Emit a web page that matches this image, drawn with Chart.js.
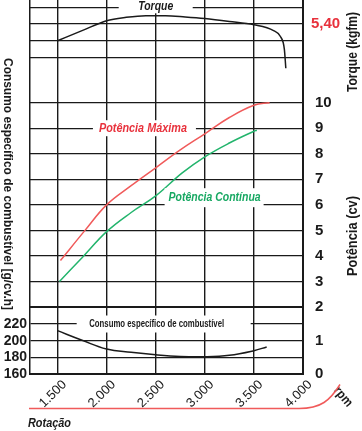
<!DOCTYPE html>
<html>
<head>
<meta charset="utf-8">
<script src="https://cdn.jsdelivr.net/npm/chart.js@4/dist/chart.umd.min.js"></script>
<style>
  html, body { margin: 0; padding: 0; background: #fff; }
  #caixa { width: 362px; height: 431px; position: relative; }
</style>
</head>
<body>
<div id="caixa"><canvas id="grafico"></canvas></div>
<script>
// ----------------------------------------------
// CURVAS DE DESEMPENHO DO MOTOR
// ----------------------------------------------

// rotacao (rpm)
var rpmTicks = [1500, 2000, 2500, 3000, 3500, 4000];

// torque (kgfm)
var torqueRpm = [1500, 1750, 2000, 2200, 2400, 2600, 2800, 3000, 3250, 3500, 3700, 3770, 3810, 3825];
var torqueVal = [5.20, 5.32, 5.44, 5.48, 5.50, 5.50, 5.485, 5.465, 5.43, 5.39, 5.32, 5.25, 5.10, 4.87];

// potencia maxima (cv)
var potMaxRpm = [1530, 1780, 2000, 2250, 2500, 2750, 3000, 3250, 3500, 3660];
var potMaxVal = [3.82, 5.0, 6.0, 6.75, 7.45, 8.15, 8.78, 9.42, 9.9, 10.0];

// potencia continua (cv)
var potContRpm = [1520, 1750, 2000, 2250, 2500, 2770, 3000, 3250, 3500, 3530];
var potContVal = [3.0, 3.93, 4.95, 5.7, 6.35, 7.25, 7.88, 8.42, 8.88, 8.92];

// consumo especifico (g/cv.h)
var consumoRpm = [1500, 1750, 2000, 2250, 2500, 2750, 3000, 3250, 3500, 3630];
var consumoVal = [212, 200.5, 190, 186, 183, 181, 180.7, 182.5, 188, 192.5];

var fonte = "'Liberation Sans', Arial, 'Helvetica Neue', sans-serif";
var preto = '#1a1a1a';
var vermelho = '#f05a5a';
var vermelhoTxt = '#e8313c';
var verde = '#22b46c';
var verdeTxt = '#17a862';

// rotulos com fundo branco sobre a grade (largura = largura do texto condensado)
var rotulos = [
    { texto: 'Torque', x: 2500, y: 5.6, eixo: 'yT', cor: preto, estilo: 'italic bold 13px ', largura: 35, esq: 37, dir: 37, cima: 8, baixo: 7, dy: -1 },
    { texto: 'Potência Máxima', x: 2370, y: 9, eixo: 'yP', cor: vermelhoTxt, estilo: 'italic bold 13px ', largura: 88, esq: 50, dir: 53, cima: 8, baixo: 8, dy: 0 },
    { texto: 'Potência Contínua', x: 3100, y: 6.28, eixo: 'yP', cor: verdeTxt, estilo: 'italic bold 13px ', largura: 92, esq: 50, dir: 49, cima: 9.5, baixo: 9.5, dy: 0 },
    { texto: 'Consumo específico de combustível', x: 2510, y: 220, eixo: 'yC', cor: preto, estilo: 'bold 11px ', largura: 135, esq: 80, dir: 94, cima: 8.5, baixo: 8.5, dy: 0 }
];

function pares(xs, ys) {
    return xs.map(function (v, i) { return { x: v, y: ys[i] }; });
}

function formatoMilhar(v) {
    return String(v).replace(/\B(?=(\d{3})+(?!\d))/g, '.');
}

function semPadding(s) {
    s.paddingTop = 0;
    s.paddingBottom = 0;
}

// escreve texto comprimido na horizontal ate a largura pedida (fonte condensada)
function textoCondensado(ctx, texto, x, y, angulo, largura) {
    var w = ctx.measureText(texto).width;
    var k = largura && w > largura ? largura / w : 1;
    ctx.save();
    ctx.translate(x, y);
    ctx.rotate(angulo);
    ctx.scale(k, 1);
    ctx.fillText(texto, 0, 0);
    ctx.restore();
}

FNTextosGrafico = {
    id: 'textosGrafico',
    afterDatasetsDraw: function (chart) {
        var ctx = chart.ctx;
        var sx = chart.scales.x;
        rotulos.forEach(function (r) {
            var px = sx.getPixelForValue(r.x);
            var py = chart.scales[r.eixo].getPixelForValue(r.y) + r.dy;
            ctx.save();
            ctx.fillStyle = '#fff';
            ctx.fillRect(px - r.esq, py - r.cima, r.esq + r.dir, r.cima + r.baixo);
            ctx.font = r.estilo + fonte;
            ctx.fillStyle = r.cor;
            ctx.textAlign = 'center';
            ctx.textBaseline = 'middle';
            textoCondensado(ctx, r.texto, px, py, 0, r.largura);
            ctx.restore();
        });
    },
    afterDraw: function (chart) {
        var ctx = chart.ctx;
        var a = chart.chartArea;
        ctx.save();
        ctx.fillStyle = preto;
        ctx.textBaseline = 'middle';
        ctx.textAlign = 'center';

        // titulo eixo esquerdo
        ctx.font = 'bold 12px ' + fonte;
        textoCondensado(ctx, 'Consumo específico de combustível [g/cv.h]', 7, 184, Math.PI / 2, 252);

        // titulos eixo direito
        ctx.font = 'bold 14px ' + fonte;
        textoCondensado(ctx, 'Torque (kgfm)', 353, 52, -Math.PI / 2, 80);
        textoCondensado(ctx, 'Potência (cv)', 353, 236, -Math.PI / 2, 80);

        // rpm
        ctx.font = 'bold 13px ' + fonte;
        textoCondensado(ctx, 'rpm', 343, 397, 50 * Math.PI / 180, 22);

        // Rotacao
        ctx.textAlign = 'left';
        ctx.font = 'italic bold 13px ' + fonte;
        textoCondensado(ctx, 'Rotação', a.left - 2, a.bottom + 49, 0, 43);

        // linha vermelha da rotacao
        var yl = a.bottom + 34.5;
        ctx.strokeStyle = vermelho;
        ctx.lineWidth = 1.5;
        ctx.beginPath();
        ctx.moveTo(a.left - 1, yl);
        ctx.lineTo(a.right - 4, yl);
        ctx.bezierCurveTo(a.right + 18, yl, a.right + 27, yl - 8, a.right + 37, yl - 24);
        ctx.stroke();
        ctx.restore();
    }
};

new Chart(document.getElementById('grafico'), {
    type: 'line',
    data: {
        datasets: [{
            label: 'Torque',
            data: pares(torqueRpm, torqueVal),
            yAxisID: 'yT',
            borderColor: preto,
            borderWidth: 1.5,
            cubicInterpolationMode: 'monotone',
            pointRadius: 0,
            clip: false
        }, {
            label: 'Potência Máxima',
            data: pares(potMaxRpm, potMaxVal),
            yAxisID: 'yP',
            borderColor: vermelho,
            borderWidth: 1.5,
            tension: 0.4,
            pointRadius: 0
        }, {
            label: 'Potência Contínua',
            data: pares(potContRpm, potContVal),
            yAxisID: 'yP',
            borderColor: verde,
            borderWidth: 1.5,
            tension: 0.4,
            pointRadius: 0
        }, {
            label: 'Consumo específico de combustível',
            data: pares(consumoRpm, consumoVal),
            yAxisID: 'yC',
            borderColor: preto,
            borderWidth: 1.5,
            tension: 0.4,
            pointRadius: 0
        }]
    },
    options: {
        responsive: true,
        maintainAspectRatio: false,
        animation: false,
        layout: { padding: 0 },
        plugins: {
            legend: { display: false },
            tooltip: { enabled: false }
        },
        scales: {
            x: {
                type: 'linear',
                position: 'bottom',
                min: 1220,
                max: 4000,
                afterBuildTicks: function (s) {
                    s.ticks = rpmTicks.map(function (v) { return { value: v }; });
                },
                afterFit: function (s) {
                    s.height = 57;
                    s.paddingLeft = 0;
                    s.paddingRight = 0;
                },
                ticks: {
                    autoSkip: false,
                    minRotation: 45,
                    maxRotation: 45,
                    padding: 3,
                    labelOffset: 7,
                    color: preto,
                    font: { family: fonte, size: 13 },
                    callback: function (v) { return formatoMilhar(v); }
                },
                grid: { color: preto, lineWidth: 1.4, drawTicks: false },
                border: { color: preto, width: 2 }
            },
            yC: {
                type: 'linear',
                position: 'left',
                min: 160,
                max: 608.8,
                afterFit: function (s) { s.width = 30; semPadding(s); },
                ticks: {
                    stepSize: 20,
                    includeBounds: false,
                    autoSkip: false,
                    padding: 3,
                    color: preto,
                    font: { family: fonte, size: 14, weight: 'bold' },
                    callback: function (v) { return v <= 220 ? v : ''; }
                },
                grid: {
                    drawTicks: false,
                    lineWidth: 1.3,
                    color: function (c) {
                        return (c.tick && c.tick.value > 160 && c.tick.value <= 220) ? preto : 'rgba(0,0,0,0)';
                    }
                },
                border: { color: preto, width: 1.5 }
            },
            yT: {
                type: 'linear',
                position: 'right',
                stack: 'direita',
                stackWeight: 80,
                weight: 1,
                min: 4.7293,
                max: 5.6874,
                afterFit: function (s) { s.width = 59; semPadding(s); },
                ticks: {
                    stepSize: 0.2,
                    includeBounds: false,
                    autoSkip: false,
                    padding: 8,
                    color: vermelhoTxt,
                    font: { family: fonte, size: 15, weight: 'bold' },
                    callback: function (v) { return Math.abs(v - 5.4) < 0.01 ? '5,40' : ''; }
                },
                grid: {
                    drawTicks: false,
                    lineWidth: 1.3,
                    color: function (c) {
                        return (c.tick && c.tick.value > 4.9) ? preto : 'rgba(0,0,0,0)';
                    }
                },
                border: { color: preto, width: 2 }
            },
            yP: {
                type: 'linear',
                position: 'right',
                stack: 'direita',
                stackWeight: 227,
                weight: 2,
                min: 2,
                max: 10.888,
                afterFit: function (s) { s.width = 59; semPadding(s); },
                ticks: {
                    stepSize: 1,
                    includeBounds: false,
                    autoSkip: false,
                    padding: 12,
                    color: preto,
                    font: { family: fonte, size: 15, weight: 'bold' }
                },
                grid: {
                    drawTicks: false,
                    color: preto,
                    lineWidth: function (c) { return (c.tick && c.tick.value === 2) ? 2 : 1.3; }
                },
                border: { color: preto, width: 2 }
            },
            yPlow: {
                type: 'linear',
                position: 'right',
                stack: 'direita',
                stackWeight: 67,
                weight: 3,
                min: 0,
                max: 2,
                afterFit: function (s) { s.width = 59; semPadding(s); },
                ticks: {
                    stepSize: 1,
                    autoSkip: false,
                    padding: 12,
                    color: preto,
                    font: { family: fonte, size: 15, weight: 'bold' },
                    callback: function (v) { return v < 2 ? v : ''; }
                },
                grid: { display: false, drawTicks: false },
                border: { color: preto, width: 2 }
            }
        }
    },
    plugins: [FNTextosGrafico]
});
</script>
</body>
</html>
